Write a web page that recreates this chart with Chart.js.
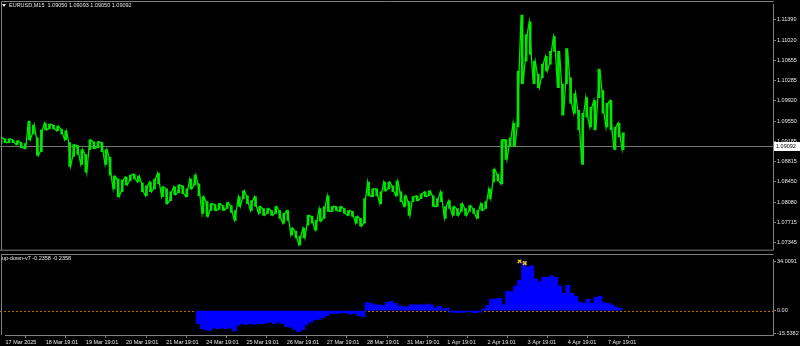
<!DOCTYPE html>
<html>
  <head>
    <title>EURUSD,M15 with up-down-v7</title>
    <style>
      body { margin: 0; background: #000; width: 800px; height: 346px; overflow: hidden; position: relative; }
      canvas { position: absolute; left: 0; }
    </style>
  </head>
  <body>

    <!-- Chart.js from the CDN -->
    <script src="https://cdn.jsdelivr.net/npm/chart.js"></script>

    <!-- Price window and indicator window -->
    <canvas id="priceChart" width="800" height="254" style="top:0px"></canvas>
    <canvas id="indChart" width="800" height="92" style="top:254px"></canvas>

    <script>

      // Symbol and last bar (open, high, low, close)
      const symbol = "EURUSD,M15";
      const lastBar = [1.09050, 1.09093, 1.09050, 1.09092];

      // Price scale labels on the right
      const priceTicks = [1.11390, 1.11020, 1.10655, 1.10285, 1.09920, 1.09550, 1.09185, 1.08815, 1.08450, 1.08080, 1.07715, 1.07345];

      // Date labels under the indicator window, one per trading day
      const dateLabels = ["17 Mar 2025", "18 Mar 19:01", "19 Mar 19:01", "20 Mar 19:01", "21 Mar 19:01", "24 Mar 19:01",
        "25 Mar 19:01", "26 Mar 19:01", "27 Mar 19:01", "28 Mar 19:01", "31 Mar 19:01", "1 Apr 19:01",
        "2 Apr 19:01", "3 Apr 19:01", "4 Apr 19:01", "7 Apr 19:01"];

      // Price range of each slice (10 slices per trading day), lows and highs
      const priceLow = [
        1.09142, 1.09160, 1.09160, 1.09160, 1.09124, 1.09071, 1.09053, 1.09213, 1.09320, 1.08928,
        1.08999, 1.09391, 1.09409, 1.09409, 1.09373, 1.09320, 1.09213, 1.08732, 1.08910, 1.08946,
        1.08768, 1.08626, 1.09035, 1.09053, 1.09071, 1.08999, 1.08768, 1.08572, 1.08323, 1.08181,
        1.08270, 1.08394, 1.08465, 1.08501, 1.08448, 1.08270, 1.08198, 1.08270, 1.08323, 1.08412,
        1.08181, 1.08056, 1.08109, 1.08216, 1.08252, 1.08234, 1.08181, 1.08323, 1.08394, 1.08198,
        1.07878, 1.07825, 1.07931, 1.07931, 1.07949, 1.07931, 1.07967, 1.07896, 1.07753, 1.08003,
        1.08145, 1.08056, 1.07931, 1.08003, 1.07878, 1.07842, 1.07878, 1.07842, 1.07878, 1.07789,
        1.07700, 1.07753, 1.07486, 1.07433, 1.07308, 1.07433, 1.07664, 1.07700, 1.07575, 1.07736,
        1.07789, 1.07914, 1.07914, 1.07931, 1.07914, 1.07878, 1.07842, 1.07825, 1.07700, 1.07647,
        1.07700, 1.08198, 1.08181, 1.08198, 1.08056, 1.08287, 1.08323, 1.08270, 1.08198, 1.08092,
        1.08003, 1.07842, 1.08092, 1.08109, 1.08145, 1.08181, 1.08198, 1.08003, 1.08003, 1.08092,
        1.07789, 1.07967, 1.07842, 1.07842, 1.07914, 1.07842, 1.07914, 1.07878, 1.07789, 1.07931,
        1.07967, 1.08145, 1.08448, 1.08465, 1.08412, 1.08857, 1.09088, 1.09088, 1.09444, 1.10228,
        1.10637, 1.10762, 1.10228, 1.10156, 1.10334, 1.10459, 1.10584, 1.10815, 1.10156, 1.09658,
        1.10228, 1.09872, 1.09694, 1.09391, 1.08768, 1.09622, 1.09444, 1.09391, 1.09978, 1.09694,
        1.09444, 1.09391, 1.09035, 1.09266, 1.09035
      ];
      const priceHigh = [
        1.09249, 1.09231, 1.09231, 1.09213, 1.09195, 1.09160, 1.09142, 1.09551, 1.09480, 1.09249,
        1.09391, 1.09516, 1.09498, 1.09480, 1.09462, 1.09409, 1.09373, 1.09160, 1.09124, 1.09106,
        1.09035, 1.08946, 1.09213, 1.09177, 1.09177, 1.09160, 1.09035, 1.08893, 1.08554, 1.08501,
        1.08483, 1.08537, 1.08572, 1.08590, 1.08554, 1.08430, 1.08376, 1.08448, 1.08501, 1.08608,
        1.08359, 1.08323, 1.08270, 1.08359, 1.08394, 1.08376, 1.08323, 1.08501, 1.08572, 1.08412,
        1.08181, 1.08092, 1.08056, 1.08038, 1.08056, 1.08020, 1.08074, 1.08020, 1.07931, 1.08181,
        1.08287, 1.08198, 1.08109, 1.08181, 1.08003, 1.07967, 1.07967, 1.07931, 1.08003, 1.07931,
        1.07878, 1.07931, 1.07611, 1.07558, 1.07469, 1.07611, 1.07842, 1.07825, 1.07753, 1.07967,
        1.08003, 1.08198, 1.08003, 1.08003, 1.08003, 1.07967, 1.07931, 1.07914, 1.07825, 1.07789,
        1.08145, 1.08448, 1.08323, 1.08323, 1.08270, 1.08448, 1.08448, 1.08376, 1.08465, 1.08270,
        1.08198, 1.08092, 1.08181, 1.08198, 1.08234, 1.08270, 1.08287, 1.08198, 1.08145, 1.08270,
        1.08003, 1.08109, 1.08003, 1.07967, 1.08056, 1.07967, 1.08020, 1.07967, 1.07931, 1.08056,
        1.08092, 1.08323, 1.08679, 1.08590, 1.09213, 1.09213, 1.09249, 1.09516, 1.10459, 1.11474,
        1.11118, 1.11349, 1.10637, 1.10406, 1.10584, 1.10726, 1.10815, 1.11082, 1.10815, 1.10228,
        1.10868, 1.10334, 1.10050, 1.09747, 1.09694, 1.09978, 1.09800, 1.09925, 1.10495, 1.10103,
        1.09872, 1.09925, 1.09444, 1.09516, 1.09338
      ];

      // up-down-v7 histogram, starts at slice 48
      const histStart = 48;
      const histValues = [
        -9, -12.5, -13.5, -13.5, -12, -12.5, -12, -12.5, -12, -14,
        -10, -9, -9.5, -9, -9.5, -9, -9, -8.5, -8, -9,
        -8, -9, -11, -11.5, -13, -14.5, -13, -9.5, -8, -6.5,
        -6, -5, -3.5, -2, -2, -2, -1.5, -2, -2.5, -2,
        -3.5, -4, 5.5, 5, 4, 4, 3.5, 5.5, 6.5, 5,
        3.5, 3, 2.5, 4, 4, 4, 4, 4.5, 4, 2,
        3, 1, 1.5, -1, -1, -1.5, -1, -0.5, -1, -1.5,
        -1, 1, 3.5, 8, 8, 8.5, 4, 13.5, 13, 17,
        21, 34, 30, 31, 22, 20, 23, 23, 24, 23,
        17, 12, 17.5, 12, 10, 6, 5, 8, 5, 9,
        10, 5.5, 5, 4, 2.5, 1.5
      ];

      // Yellow cross signals on the indicator (day, value)
      const crossDay = [12.8, 12.93];
      const crossValue = [34.2, 32.8];

      // Indicator scale labels
      const indTicks = [34.0091, 0, -15.5382];
      const indTickLabels = ["34.0091", "0.00", "-15.5382"];
      const indName = "up-down-v7 -0.2358 -0.2358";

      const FONT = { family: "Liberation Sans, Arial, sans-serif", size: 5.5 };
      const TEXT = "#e6e6e6";
      const FRAME = "#808080";
      const GREEN = "#00e600";
      const X_MIN = 0, X_MAX = 19.11;

      // Frame, bid line, bid box and title of the price window
      const mainDecor = {
        id: "mainDecor",
        beforeDatasetsDraw(chart) {
          const { ctx, chartArea: a, scales: { y } } = chart;
          const yb = Math.round(y.getPixelForValue(lastBar[3])) + 0.5;
          ctx.save();
          ctx.strokeStyle = "#767676";
          ctx.lineWidth = 1;
          ctx.beginPath(); ctx.moveTo(0, yb); ctx.lineTo(a.right, yb); ctx.stroke();
          ctx.restore();
        },
        afterDraw(chart) {
          const { ctx, chartArea: a, scales: { y } } = chart;
          ctx.save();
          ctx.strokeStyle = FRAME;
          ctx.lineWidth = 1;
          ctx.beginPath();
          ctx.moveTo(1.5, a.bottom + 0.5); ctx.lineTo(1.5, 1.5); ctx.lineTo(a.right + 0.5, 1.5);
          ctx.moveTo(0, a.bottom + 0.5); ctx.lineTo(a.right + 0.5, a.bottom + 0.5);
          ctx.stroke();

          // bid price box
          const yb = Math.round(y.getPixelForValue(lastBar[3]));
          ctx.fillStyle = "#ffffff";
          ctx.fillRect(a.right + 1, yb - 4, 26, 9);
          ctx.fillStyle = "#000000";
          ctx.font = FONT.size + "px " + FONT.family;
          ctx.textBaseline = "middle";
          ctx.fillText(lastBar[3].toFixed(5), a.right + 3, yb + 0.5);

          // title
          ctx.fillStyle = TEXT;
          ctx.beginPath(); ctx.moveTo(2, 4); ctx.lineTo(6, 4); ctx.lineTo(4, 7); ctx.closePath(); ctx.fill();
          ctx.fillText(symbol + "  " + lastBar.map(v => v.toFixed(5)).join(" "), 9, 5.5);
          ctx.restore();
        }
      };

      // Zero level, frame and name of the indicator window
      const indDecor = {
        id: "indDecor",
        beforeDatasetsDraw(chart) {
          const { ctx, chartArea: a, scales: { y } } = chart;
          const y0 = Math.round(y.getPixelForValue(0)) + 0.5;
          ctx.save();
          ctx.strokeStyle = "#b86e00";
          ctx.setLineDash([2, 2]);
          ctx.beginPath(); ctx.moveTo(0, y0); ctx.lineTo(a.right, y0); ctx.stroke();
          ctx.restore();
        },
        afterDraw(chart) {
          const { ctx, chartArea: a } = chart;
          ctx.save();
          ctx.strokeStyle = FRAME;
          ctx.lineWidth = 1;
          ctx.beginPath();
          ctx.moveTo(1.5, a.bottom); ctx.lineTo(1.5, 0.5); ctx.lineTo(a.right + 0.5, 0.5);
          ctx.stroke();
          ctx.fillStyle = TEXT;
          ctx.font = FONT.size + "px " + FONT.family;
          ctx.textBaseline = "middle";
          ctx.fillText(indName, 2, 4);
          ctx.restore();
        }
      };

      // Zigzag through each slice's range so the price reads as a jagged line
      const zigzag = priceLow.flatMap((lo, i) => {
        const hi = priceHigh[i];
        const a = i % 2 ? hi : lo, b = i % 2 ? lo : hi;
        return [{ x: i / 10 - 0.025, y: a }, { x: i / 10 + 0.025, y: b }];
      });

      // Price window
      new Chart(document.getElementById("priceChart"), {
        type: "bar",
        data: {
          datasets: [{
            type: "line",
            data: zigzag,
            borderColor: GREEN,
            borderWidth: 1.3,
            pointRadius: 0,
            tension: 0
          }, {
            data: priceLow.map((lo, i) => ({ x: i / 10, y: [lo, priceHigh[i]] })),
            backgroundColor: GREEN,
            borderWidth: 0,
            barThickness: 2
          }]
        },
        options: {
          responsive: false,
          animation: false,
          devicePixelRatio: 1,
          layout: { padding: { left: 1, top: 2, right: 0, bottom: 2 } },
          plugins: { legend: { display: false }, tooltip: { enabled: false } },
          scales: {
            x: { type: "linear", min: X_MIN, max: X_MAX, offset: false, display: false },
            y: {
              position: "right",
              min: 1.07220,
              max: 1.11669,
              afterBuildTicks: s => { s.ticks = priceTicks.map(v => ({ value: v })); },
              afterFit: s => { s.width = 27; },
              ticks: { callback: v => v.toFixed(5), color: TEXT, font: FONT, padding: 1, crossAlign: "near", autoSkip: false },
              grid: { drawOnChartArea: false, color: FRAME, tickLength: 3 },
              border: { color: FRAME }
            }
          }
        },
        plugins: [mainDecor]
      });

      // Indicator window
      new Chart(document.getElementById("indChart"), {
        type: "bar",
        data: {
          datasets: [{
            type: "line",
            data: crossDay.map((d, i) => ({ x: d, y: crossValue[i] })),
            showLine: false,
            pointStyle: "crossRot",
            pointRadius: 2.5,
            borderColor: "#e8c400",
            borderWidth: 1.5
          }, {
            data: histValues.map((v, k) => ({ x: (histStart + k) / 10, y: v })),
            backgroundColor: "#0000ff",
            borderWidth: 0,
            barThickness: 4.2
          }]
        },
        options: {
          responsive: false,
          animation: false,
          devicePixelRatio: 1,
          layout: { padding: { left: 1, top: 1, right: 0, bottom: 0 } },
          plugins: { legend: { display: false }, tooltip: { enabled: false } },
          scales: {
            x: {
              type: "linear",
              min: X_MIN,
              max: X_MAX,
              offset: false,
              afterBuildTicks: s => { s.ticks = dateLabels.map((_, i) => ({ value: i })); },
              afterFit: s => { s.height = 11; },
              ticks: { callback: (v, i) => dateLabels[i], align: "start", maxRotation: 0, autoSkip: false, color: TEXT, font: FONT, padding: 1 },
              grid: { drawOnChartArea: false, color: FRAME, tickLength: 3 },
              border: { color: FRAME }
            },
            y: {
              position: "right",
              min: -16.84,
              max: 35.31,
              afterBuildTicks: s => { s.ticks = indTicks.map(v => ({ value: v })); },
              afterFit: s => { s.width = 27; },
              ticks: { callback: (v, i) => indTickLabels[i], color: TEXT, font: FONT, padding: 1, crossAlign: "near", autoSkip: false },
              grid: { drawOnChartArea: false, color: FRAME, tickLength: 3 },
              border: { color: FRAME }
            }
          }
        },
        plugins: [indDecor]
      });

    </script>
  </body>
</html>
